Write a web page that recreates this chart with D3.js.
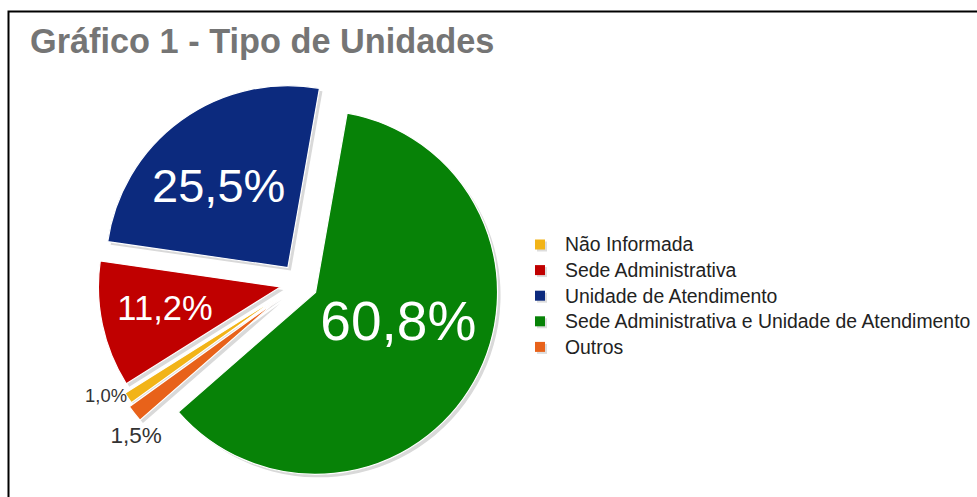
<!DOCTYPE html>
<html>
<head>
<meta charset="utf-8">
<script src="https://d3js.org/d3.v7.min.js"></script>
<style>
  body { margin: 0; background: #fff; }
  text { font-family: "Liberation Sans", Arial, sans-serif; }
</style>
</head>
<body>
<script>
// data
var categories = ["Não Informada", "Sede Administrativa", "Unidade de Atendimento",
                  "Sede Administrativa e Unidade de Atendimento", "Outros"];
var values = [1.0, 11.2, 25.5, 60.8, 1.5];
var labels = ["1,0%", "11,2%", "25,5%", "60,8%", "1,5%"];
var colors = ["#f2b418", "#c00000", "#0c2a7e", "#078207", "#e8621a"];
// clockwise drawing order starting near the top
var sliceOrder = [3, 4, 0, 1, 2];

var W = 977, H = 497;
var svg = d3.select("body").append("svg").attr("width", W).attr("height", H);

svg.append("rect").attr("x", 8.5).attr("y", 11.5).attr("width", 1000).attr("height", 490)
  .attr("fill", "#fff").attr("stroke", "#000").attr("stroke-width", 2);

svg.append("text").attr("x", 30).attr("y", 53)
  .attr("font-size", 34.3).attr("font-weight", "bold").attr("fill", "#757575")
  .text("Gráfico 1 - Tipo de Unidades");

var cx = 299, cy = 283, R = 182;
var startDeg = 10;
// how far each slice is pulled out (small ones a bit more)
var explode = { 0: 24, 1: 19, 2: 19, 3: 19, 4: 28 };

var pie = d3.pie().sort(null).value(function (i) { return values[i]; })
  .startAngle(startDeg * Math.PI / 180).endAngle((startDeg + 360) * Math.PI / 180);
var arcs = pie(sliceOrder);
var arc = d3.arc().innerRadius(0).outerRadius(R);

function mid(d) { return (d.startAngle + d.endAngle) / 2; }
function offset(d) {
  var m = mid(d), e = explode[d.data];
  return [e * Math.sin(m), -e * Math.cos(m)];
}

var g = svg.append("g").attr("transform", "translate(" + cx + "," + cy + ")");

// shadows
g.selectAll("path.shadow").data(arcs).enter().append("path")
  .attr("class", "shadow")
  .attr("d", arc)
  .attr("fill", "#d9d9d9")
  .attr("transform", function (d) { var o = offset(d); return "translate(" + (o[0] + 3) + "," + (o[1] + 3) + ")"; });

g.selectAll("path.slice").data(arcs).enter().append("path")
  .attr("class", "slice")
  .attr("d", arc)
  .attr("fill", function (d) { return colors[d.data]; })
  .attr("stroke", "#fff").attr("stroke-width", 1.2)
  .attr("transform", function (d) { var o = offset(d); return "translate(" + o[0] + "," + o[1] + ")"; });

// label placement: radius fraction, angle nudge (deg), size, colour
var labelStyle = {
  3: { r: 0.48, da: -10.8, size: 55, fill: "#fff" },
  2: { r: 0.59, da: -4.2, size: 47, fill: "#fff" },
  1: { r: 0.645, da: 1.6, size: 34.5, fill: "#fff" },
  0: { r: 1.095, da: 4.2, size: 18.4, fill: "#333" },
  4: { r: 1.07, da: -5.2, size: 22.5, fill: "#333" }
};
function labelXY(d) {
  var s = labelStyle[d.data], o = offset(d);
  var a = mid(d) + s.da * Math.PI / 180;
  return [o[0] + R * s.r * Math.sin(a), o[1] - R * s.r * Math.cos(a)];
}
g.selectAll("text.lbl").data(arcs).enter().append("text")
  .attr("class", "lbl")
  .attr("text-anchor", "middle").attr("dy", "0.36em")
  .attr("font-size", function (d) { return labelStyle[d.data].size; })
  .attr("fill", function (d) { return labelStyle[d.data].fill; })
  .attr("x", function (d) { return labelXY(d)[0]; })
  .attr("y", function (d) { return labelXY(d)[1]; })
  .text(function (d) { return labels[d.data]; });

// legend
var leg = svg.append("g").attr("transform", "translate(535,244.5)");
var item = leg.selectAll("g").data(categories).enter().append("g")
  .attr("transform", function (d, i) { return "translate(0," + i * 25.6 + ")"; });
item.append("rect").attr("x", 2).attr("y", -3).attr("width", 10).attr("height", 10).attr("fill", "#ddd");
item.append("rect").attr("x", 0).attr("y", -5).attr("width", 10).attr("height", 10)
  .attr("fill", function (d, i) { return colors[i]; });
item.append("text").attr("x", 30).attr("y", 0).attr("dy", "0.36em")
  .attr("font-size", 19.4).attr("fill", "#222").text(function (d) { return d; });
</script>
</body>
</html>
